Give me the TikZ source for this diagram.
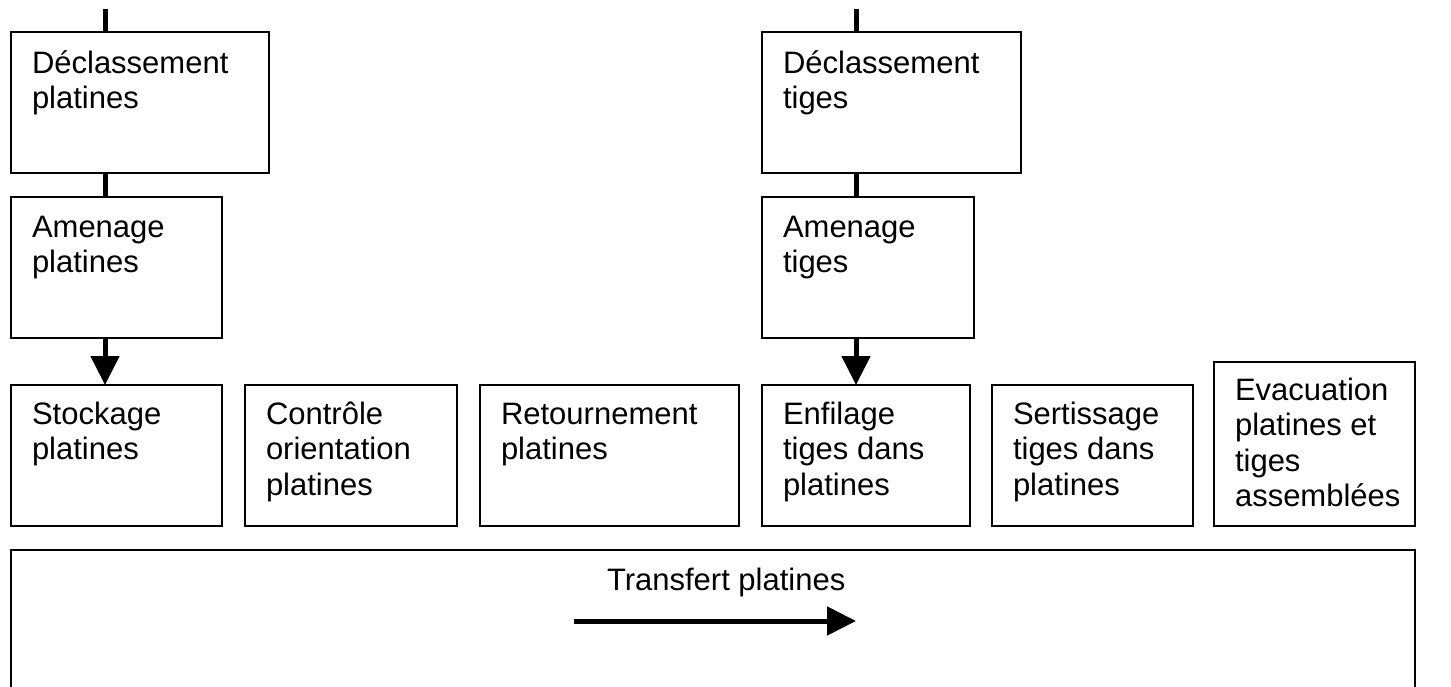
\documentclass[tikz,border=0pt]{standalone}
\usepackage{fontspec}
\setmainfont{Liberation Sans}
\usetikzlibrary{arrows.meta}
\tikzset{
  boxst/.style={draw=black, line width=1.6pt, inner sep=0pt, outer sep=0pt, anchor=north west, fill=none},
  txt/.style={inner sep=0pt, outer sep=0pt, anchor=base west, font=\fontsize{31}{35.5}\selectfont},
  flow/.style={line width=5pt, draw=black},
  flowarrow/.style={flow, -{Triangle[width=28pt,length=29pt]}},
}
\newcommand\procbox[7]{%
  \node[boxst, minimum width={(#4-#2)*1pt}, minimum height={(#5-#3)*1pt}] (#1) at (#2,#3) {};
  \node[txt] (#1t) at ({#2+21},{#3+#6}) {\parbox[t]{300pt}{\raggedright #7}};
}
\begin{document}
\begin{tikzpicture}[x=1pt,y=-1pt]
\useasboundingbox (0,0) rectangle (1451,686);
\clip (0,0) rectangle (1451,686);
\fill[white] (0,0) rectangle (1451,686);
\procbox{b1}{11}{32}{269}{173}{41}{Déclassement\\platines}
\procbox{b2}{11}{197}{222}{338}{40}{Amenage\\platines}
\procbox{b3}{762}{32}{1021}{173}{41}{Déclassement\\tiges}
\procbox{b4}{762}{197}{974}{338}{40}{Amenage\\tiges}
\procbox{s1}{11}{385}{222}{526}{39}{Stockage\\platines}
\procbox{s2}{245}{385}{457}{526}{39}{Contrôle\\orientation\\platines}
\procbox{s3}{480}{385}{739}{526}{39}{Retournement\\platines}
\procbox{s4}{762}{385}{970}{526}{39}{Enfilage\\tiges dans\\platines}
\procbox{s5}{992}{385}{1193}{526}{39}{Sertissage\\tiges dans\\platines}
\procbox{s6}{1214}{362}{1415}{526}{38}{Evacuation\\platines et\\tiges\\assemblées}
\node[boxst, minimum width=1404pt, minimum height=200pt] (big) at (11,550) {};
\node[txt] (tr) at (607,590) {Transfert platines};
\coordinate (inP) at (105,9);
\coordinate (inT) at (856,9);
\draw[flow] (inP) -- (inP |- b1.north);
\draw[flow] (b1.south -| inP) -- (b2.north -| inP);
\draw[flowarrow] (b2.south -| inP) -- (s1.north -| inP);
\draw[flow] (inT) -- (inT |- b3.north);
\draw[flow] (b3.south -| inT) -- (b4.north -| inT);
\draw[flowarrow] (b4.south -| inT) -- (s4.north -| inT);
\coordinate (ta) at (574,621);
\coordinate (tb) at (856,621);
\draw[flowarrow] (ta) -- (tb);
\end{tikzpicture}
\end{document}
